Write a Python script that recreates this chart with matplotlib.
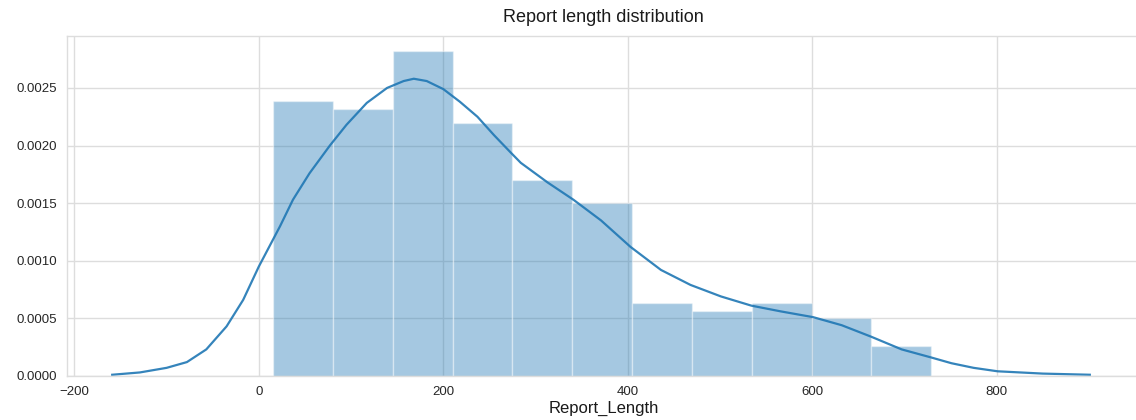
import numpy as np
import matplotlib
matplotlib.use("Agg")
import matplotlib.pyplot as plt

# histogram (density)
bin_edges = [15, 80, 145, 210, 275, 340, 405, 470, 535, 600, 664, 729]
densities = [0.002387, 0.002318, 0.002821, 0.002196, 0.001701, 0.001502,
             0.000634, 0.000564, 0.000634, 0.000503, 0.000260]

# kde curve, points
kde_x = [-159, -129, -100, -78, -57, -35, -17, 0, 23, 37, 55, 77, 95, 117,
         139, 157, 168, 182, 200, 218, 237, 255, 273, 284, 313, 341, 371,
         403, 436, 468, 501, 534, 566, 601, 632, 664, 697, 729, 751, 775,
         801, 850, 901]
kde_y = [0.00001, 0.00003, 0.00007, 0.00012, 0.00023, 0.00043, 0.00066,
         0.00095, 0.00130, 0.00153, 0.00176, 0.00200, 0.00218, 0.00237,
         0.00250, 0.00256, 0.00258, 0.00256, 0.00249, 0.00238, 0.00225,
         0.00209, 0.00194, 0.00185, 0.00168, 0.00153, 0.00135, 0.00112,
         0.00092, 0.00079, 0.00069, 0.00061, 0.00056, 0.00051, 0.00044,
         0.00034, 0.00023, 0.00016, 0.00011, 0.00007, 0.00004, 0.00002,
         0.00001]

x_ticks = [-200, 0, 200, 400, 600, 800]
y_ticks = [0.0, 0.0005, 0.0010, 0.0015, 0.0020, 0.0025]

plt.rcParams['font.family'] = ['Liberation Sans', 'DejaVu Sans']

fig = plt.figure(figsize=(11.36, 4.2), dpi=100)
ax = fig.add_axes([0.059, 0.105, 0.945, 0.809])

color = '#1f77b4'
ax.hist(bin_edges[:-1], bins=bin_edges, weights=densities,
        color=color, alpha=0.4, edgecolor='white', linewidth=1.0)
ax.plot(kde_x, kde_y, color=color, linewidth=1.6, alpha=0.9,
        solid_joinstyle='round')

ax.set_xlim(-208, 956)
ax.set_ylim(0, 0.00295)
ax.set_xticks(x_ticks)
ax.set_yticks(y_ticks)
ax.set_yticklabels([f"{v:.4f}" for v in y_ticks])

ax.set_axisbelow(True)
ax.grid(True, color='#dddddd', linewidth=1.0)
for s in ax.spines.values():
    s.set_color('#dddddd')
    s.set_linewidth(1.0)
ax.spines['right'].set_visible(False)

ax.tick_params(axis='both', length=0, labelsize=9.5, colors='#262626', pad=7)

ax.set_title('Report length distribution', fontsize=13, color='#1a1a1a', pad=10)
ax.set_xlabel('Report_Length', fontsize=12, color='#1a1a1a', labelpad=2)

fig.savefig('out.png', dpi=100)
